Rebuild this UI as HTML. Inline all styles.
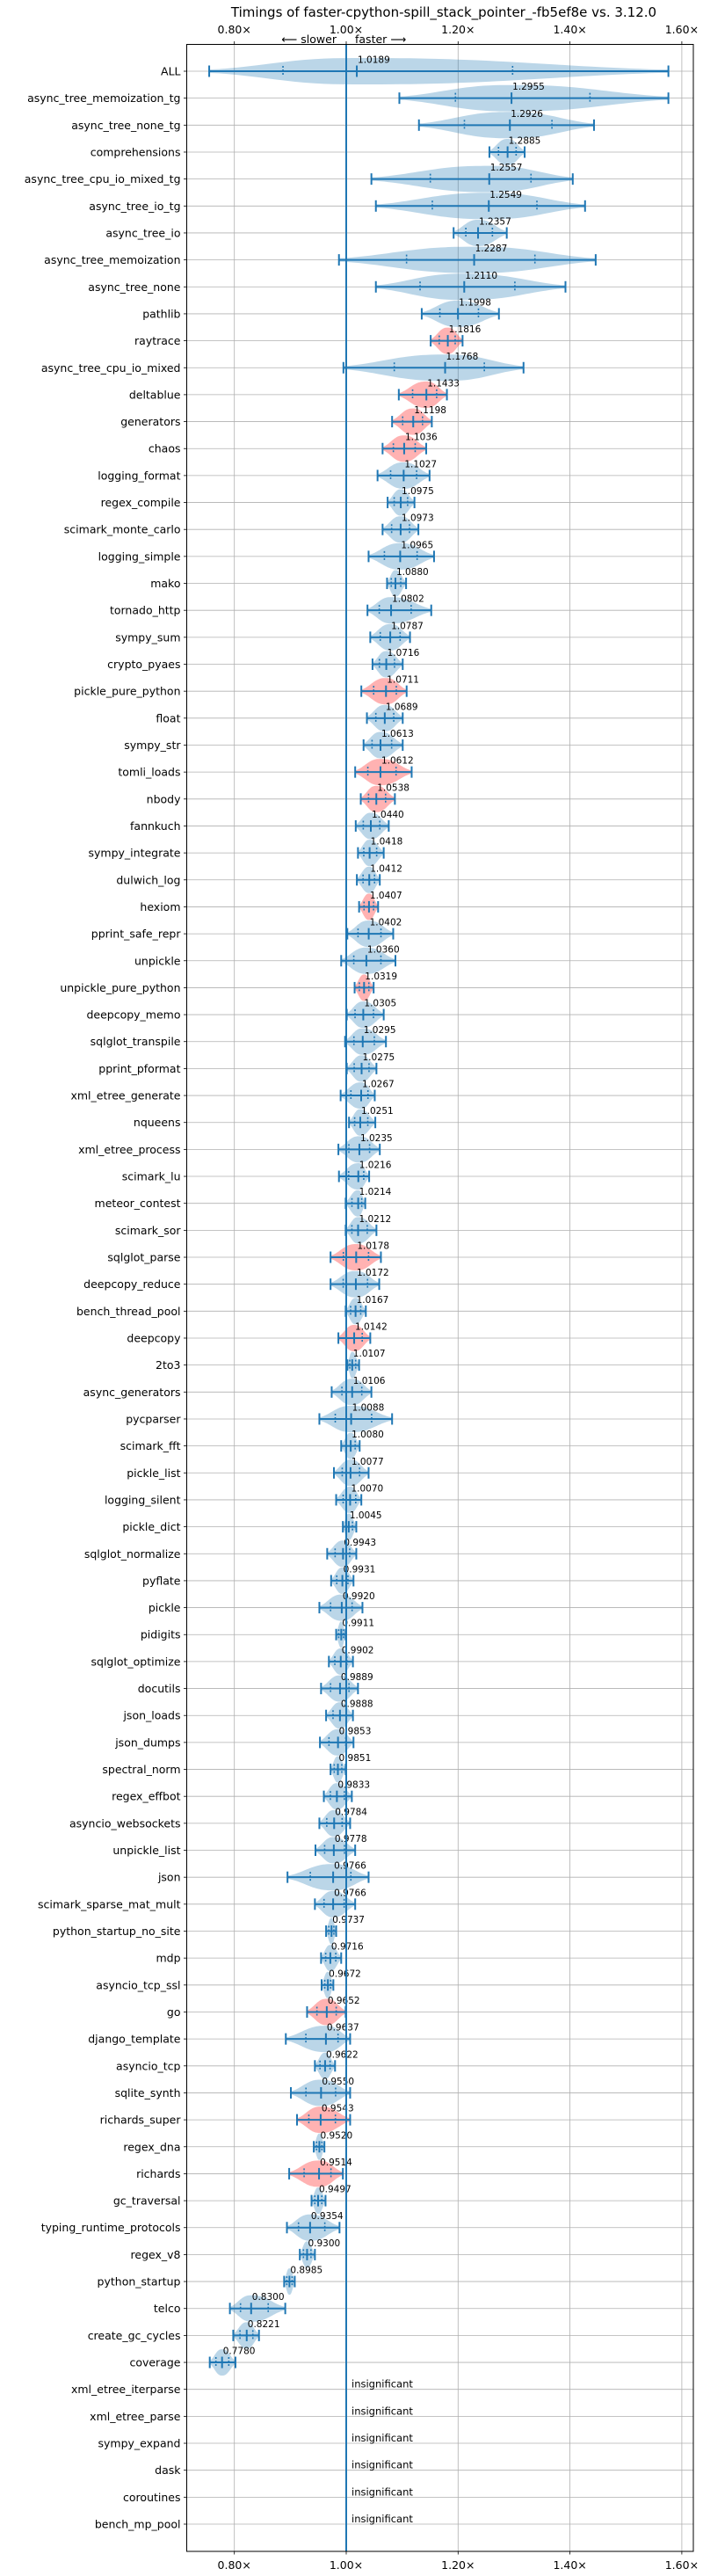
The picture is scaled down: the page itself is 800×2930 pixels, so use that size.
<!DOCTYPE html>
<html><head><meta charset="utf-8"><title>Timings chart</title>
<style>
html,body{margin:0;padding:0;background:#fff;}
svg{display:block;font-family:"DejaVu Sans","Liberation Sans",sans-serif;}
</style></head>
<body>
<svg id="chart" width="800" height="2930" viewBox="0 0 800 2930" xmlns="http://www.w3.org/2000/svg">
<text x="505" y="19" font-size="15" text-anchor="middle" fill="#000">Timings of faster-cpython-spill_stack_pointer_-fb5ef8e vs. 3.12.0</text>
<text x="383" y="49" font-size="12.5" text-anchor="end" fill="#000">⟵ slower</text>
<text x="404" y="49" font-size="12.5" text-anchor="start" fill="#000">faster ⟶</text>
<g id="grid"></g>
<g id="marks"></g>
<g id="axes"></g>
</svg>
<script>
const names = ["ALL","async_tree_memoization_tg","async_tree_none_tg","comprehensions","async_tree_cpu_io_mixed_tg","async_tree_io_tg","async_tree_io","async_tree_memoization","async_tree_none","pathlib","raytrace","async_tree_cpu_io_mixed","deltablue","generators","chaos","logging_format","regex_compile","scimark_monte_carlo","logging_simple","mako","tornado_http","sympy_sum","crypto_pyaes","pickle_pure_python","float","sympy_str","tomli_loads","nbody","fannkuch","sympy_integrate","dulwich_log","hexiom","pprint_safe_repr","unpickle","unpickle_pure_python","deepcopy_memo","sqlglot_transpile","pprint_pformat","xml_etree_generate","nqueens","xml_etree_process","scimark_lu","meteor_contest","scimark_sor","sqlglot_parse","deepcopy_reduce","bench_thread_pool","deepcopy","2to3","async_generators","pycparser","scimark_fft","pickle_list","logging_silent","pickle_dict","sqlglot_normalize","pyflate","pickle","pidigits","sqlglot_optimize","docutils","json_loads","json_dumps","spectral_norm","regex_effbot","asyncio_websockets","unpickle_list","json","scimark_sparse_mat_mult","python_startup_no_site","mdp","asyncio_tcp_ssl","go","django_template","asyncio_tcp","sqlite_synth","richards_super","regex_dna","richards","gc_traversal","typing_runtime_protocols","regex_v8","python_startup","telco","create_gc_cycles","coverage","xml_etree_iterparse","xml_etree_parse","sympy_expand","dask","coroutines","bench_mp_pool"];
const medians = [1.0189,1.2955,1.2926,1.2885,1.2557,1.2549,1.2357,1.2287,1.2110,1.1998,1.1816,1.1768,1.1433,1.1198,1.1036,1.1027,1.0975,1.0973,1.0965,1.0880,1.0802,1.0787,1.0716,1.0711,1.0689,1.0613,1.0612,1.0538,1.0440,1.0418,1.0412,1.0407,1.0402,1.0360,1.0319,1.0305,1.0295,1.0275,1.0267,1.0251,1.0235,1.0216,1.0214,1.0212,1.0178,1.0172,1.0167,1.0142,1.0107,1.0106,1.0088,1.0080,1.0077,1.0070,1.0045,0.9943,0.9931,0.9920,0.9911,0.9902,0.9889,0.9888,0.9853,0.9851,0.9833,0.9784,0.9778,0.9766,0.9766,0.9737,0.9716,0.9672,0.9652,0.9637,0.9622,0.9550,0.9543,0.9520,0.9514,0.9497,0.9354,0.9300,0.8985,0.8300,0.8221,0.7780,null,null,null,null,null,null];
const mins = [0.755,1.095,1.130,1.256,1.045,1.053,1.192,0.987,1.053,1.135,1.151,0.995,1.094,1.082,1.065,1.056,1.074,1.065,1.040,1.073,1.038,1.043,1.047,1.027,1.037,1.031,1.016,1.026,1.017,1.021,1.019,1.023,1.002,0.991,1.015,1.001,0.998,1.001,0.990,1.005,0.986,0.987,0.999,0.999,0.972,0.972,0.999,0.986,1.002,0.974,0.952,0.991,0.978,0.982,0.994,0.966,0.973,0.952,0.982,0.969,0.955,0.964,0.953,0.972,0.960,0.952,0.945,0.895,0.944,0.964,0.955,0.956,0.930,0.892,0.944,0.901,0.912,0.942,0.898,0.938,0.894,0.917,0.889,0.792,0.798,0.756,null,null,null,null,null,null];
const maxs = [1.576,1.576,1.443,1.319,1.405,1.427,1.287,1.446,1.392,1.273,1.208,1.317,1.180,1.153,1.143,1.149,1.122,1.129,1.157,1.107,1.152,1.114,1.101,1.108,1.101,1.101,1.117,1.087,1.076,1.067,1.060,1.057,1.084,1.088,1.049,1.067,1.071,1.054,1.051,1.052,1.060,1.041,1.034,1.054,1.062,1.059,1.035,1.043,1.023,1.045,1.082,1.024,1.040,1.027,1.018,1.018,1.013,1.029,0.999,1.012,1.021,1.012,1.013,0.999,1.010,1.007,1.016,1.040,1.016,0.982,0.991,0.977,0.999,1.007,0.980,1.007,1.007,0.961,0.994,0.963,0.988,0.944,0.908,0.891,0.844,0.802,null,null,null,null,null,null];
const slowerSet = ["raytrace","deltablue","generators","chaos","pickle_pure_python","tomli_loads","nbody","hexiom","unpickle_pure_python","sqlglot_parse","deepcopy","go","richards_super","richards"];
const xTicks = [0.8,1.0,1.2,1.4,1.6];
const xTickLabels = ["0.80×","1.00×","1.20×","1.40×","1.60×"];

const NS="http://www.w3.org/2000/svg";
const L=212.5, R=789, T=50.5, B=2902;
const X0=394, PX=636.5;
function xs(v){return X0+(v-1)*PX;}
const ROW0=81, ROWH=(2871-81)/91;
function ys(i){return ROW0+i*ROWH;}
function mk(tag,attrs,parent){const e=document.createElementNS(NS,tag);for(const k in attrs)e.setAttribute(k,attrs[k]);parent.appendChild(e);return e;}
const grid=document.getElementById('grid'), marks=document.getElementById('marks'), axes=document.getElementById('axes');
const BLUE="#1f77b4";

xTicks.forEach((t,k)=>{
  const x=xs(t);
  const g=mk('line',{x1:x,x2:x,y1:T,y2:B,stroke:'#b0b0b0','stroke-width':0.8},grid);
  
  
  const tt=mk('line',{x1:x,x2:x,y1:T,y2:T-3.5,stroke:'#000','stroke-width':0.8},axes);
  
  
  const tb=mk('line',{x1:x,x2:x,y1:B,y2:B+3.5,stroke:'#000','stroke-width':0.8},axes);
  
  
  const l1=mk('text',{x:x,y:38,'font-size':12.5,'text-anchor':'middle'},axes);
  l1.textContent=xTickLabels[k];
  
  
  const l2=mk('text',{x:x,y:2922,'font-size':12.5,'text-anchor':'middle'},axes);
  l2.textContent=xTickLabels[k];
  
  
});

names.forEach((n,i)=>{
  const y=ys(i);
  const hl=mk('line',{x1:L,x2:R,y1:y,y2:y,stroke:'#b0b0b0','stroke-width':0.8},grid);
  
  
  const tk=mk('line',{x1:L,x2:L-3.5,y1:y,y2:y,stroke:'#000','stroke-width':0.8},axes);
  
  
  const lb=mk('text',{x:L-7,y:y+4.5,'font-size':12.5,'text-anchor':'end'},axes);
  lb.textContent=n;
  
  

  const med=medians[i];
  if(med===null){
    const ib=mk('line',{x1:xs(1),x2:xs(1),y1:y-8,y2:y+8,stroke:'#bcd4e8','stroke-width':2},marks);
    
    
    const it=mk('text',{x:400,y:y-2,'font-size':11.5},marks);
    it.textContent='insignificant';
    
    
    return;
  }
  const lo=mins[i], hi=maxs[i];
  const red=slowerSet.indexOf(n)>=0;
  const g=mk('g',{},marks);
  
  
  const N=48, H=15;
  const top=[],bot=[];
  for(let k=0;k<=N;k++){
    const v=lo+(hi-lo)*k/N;
    const d = v<med ? (med-v)/Math.max(med-lo,1e-4) : (v-med)/Math.max(hi-med,1e-4);
    let h=H*Math.exp(-2.2*Math.pow(d,2.6));
    h=Math.max(h,2);
    top.push([xs(v),y-h]);bot.push([xs(v),y+h]);
  }
  const pts=top.concat(bot.reverse()).map(p=>p[0].toFixed(1)+','+p[1].toFixed(1)).join(' ');
  const body=mk('polygon',{points:pts,fill:red?'#ff0000':BLUE,'fill-opacity':0.3,stroke:'none'},g);
  
  
  const wl=mk('line',{x1:xs(lo),x2:xs(hi),y1:y,y2:y,stroke:BLUE,'stroke-width':2},g);
  
  
  [lo,hi].forEach(v=>{
    const c=mk('line',{x1:xs(v),x2:xs(v),y1:y-6.5,y2:y+6.5,stroke:BLUE,'stroke-width':2},g);
    
    
  });
  const ml=mk('line',{x1:xs(med),x2:xs(med),y1:y-6.5,y2:y+6.5,stroke:BLUE,'stroke-width':2},g);
  
  
  [med-(med-lo)*0.5, med+(hi-med)*0.5].forEach(v=>{
    const q=mk('line',{x1:xs(v),x2:xs(v),y1:y-6,y2:y+6,stroke:BLUE,'stroke-width':1.6,'stroke-dasharray':'2,2'},g);
    
    
  });
  const vt=mk('text',{x:xs(med)+1,y:y-9.5,'font-size':10.5},g);
  vt.textContent=med.toFixed(4);
  
  
});

const base=mk('line',{x1:xs(1),x2:xs(1),y1:T,y2:B,stroke:BLUE,'stroke-width':2},marks);



const sp=mk('rect',{x:L,y:T,width:R-L,height:B-T,fill:'none',stroke:'#000','stroke-width':1},axes);


</script>
</body></html>
